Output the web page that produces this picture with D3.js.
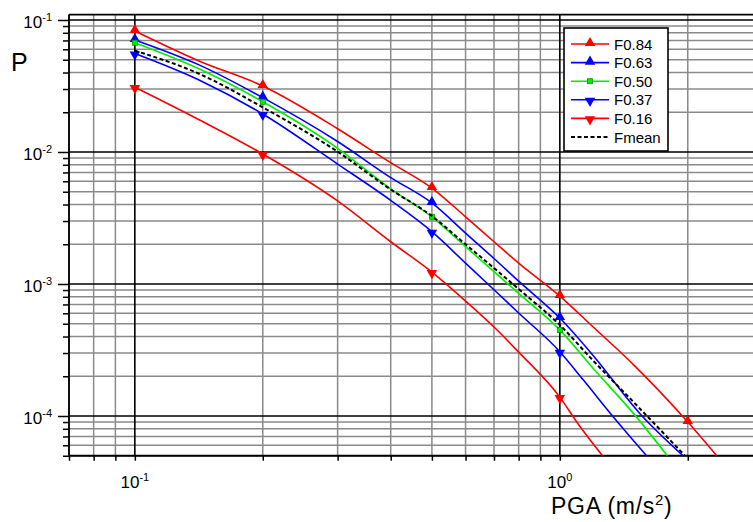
<!DOCTYPE html>
<html><head><meta charset="utf-8">
<script src="https://cdn.jsdelivr.net/npm/d3@7"></script>
<style>
html,body{margin:0;padding:0;background:#fff;}
text{font-family:Arial,"Liberation Sans",sans-serif;}
</style></head>
<body>
<svg id="c" width="753" height="522"></svg>
<script>
// ---- data ----
const seriesNames = ["F0.84","F0.63","F0.50","F0.37","F0.16","Fmean"];
const pga84 = [0.1,0.142,0.2,0.3,0.4,0.5,0.6,0.7,0.8,1.0,1.2,1.5,2.0,2.34];
const p84   = [0.0825,0.0487,0.0316,0.0150,0.0083,0.00533,0.00323,0.00209,0.00144,0.00081,0.00047,0.00024,0.00009,0.00005];
const pga63 = [0.1,0.142,0.2,0.3,0.4,0.5,0.6,0.7,0.8,1.0,1.2,1.54,1.95];
const p63   = [0.0706,0.0455,0.0258,0.0120,0.0064,0.00411,0.00243,0.00156,0.00105,0.000552,0.000285,0.000105,0.00005];
const pga50 = [0.1,0.142,0.2,0.3,0.4,0.5,0.6,0.7,0.8,1.0,1.2,1.5,1.79];
const p50   = [0.0673,0.0425,0.0240,0.01067,0.00525,0.00323,0.00192,0.00124,0.000848,0.000449,0.000228,0.000102,0.00005];
const pga37 = [0.1,0.142,0.2,0.3,0.4,0.5,0.6,0.7,0.8,1.0,1.135,1.335,1.6];
const p37   = [0.0558,0.0350,0.0194,0.0081,0.0043,0.00249,0.00144,0.000904,0.000603,0.000307,0.000188,0.0000988,0.00005];
const pga16 = [0.1,0.142,0.2,0.3,0.4,0.5,0.6,0.7,0.8,1.0,1.1,1.26];
const p16   = [0.031,0.0175,0.00966,0.00426,0.00209,0.00123,0.000743,0.000472,0.000305,0.000139,0.0000885,0.00005];
const pgaMean = [0.1,0.142,0.2,0.3,0.4,0.5,0.6,0.7,0.8,1.0,1.2,1.5,1.97];
const pMean   = [0.0586,0.0390,0.0218,0.01005,0.0052,0.00327,0.0020,0.00132,0.000916,0.000489,0.000261,0.000125,0.00005];
const markerPGA = [0.1,0.2,0.5,1.0,2.0];
const xTickLabels = [{v:0.1,b:"10",e:"-1"},{v:1,b:"10",e:"0"}];
const yTickLabels = [{v:0.1,b:"10",e:"-1"},{v:0.01,b:"10",e:"-2"},{v:0.001,b:"10",e:"-3"},{v:0.0001,b:"10",e:"-4"}];

// ---- styles ----
const colors = ["#ff0000","#0000ff","#00ee00","#0000ff","#ff0000","#000000"];
const markers = ["up","up","sq","down","down","none"];
const xsAll = [pga84,pga63,pga50,pga37,pga16,pgaMean];
const ysAll = [p84,p63,p50,p37,p16,pMean];

const svg = d3.select("#c");
const L = 69, decX = 425, decY = 132;
const x = d3.scaleLog().domain([0.07,3]).range([L, L + decX*Math.log10(3/0.07)]);
const yTop = 20 - decY*Math.log10(0.11/0.1);
const y = d3.scaleLog().domain([5e-5,0.11]).range([20 + decY*Math.log10(0.1/5e-5), yTop]);
const B = y(5e-5);
const R = 760;

const xMinor = [0.07,0.08,0.09,0.2,0.3,0.4,0.5,0.6,0.7,0.8,0.9,2,3];
const xMajor = [0.1,1];
const yMinor = [];
[1e-5,1e-4,1e-3,1e-2].forEach(d=>{for(let k=2;k<=9;k++){const v=k*d; if(v>=5e-5-1e-12 && v<0.1) yMinor.push(v);}});
const yMajor = [1e-4,1e-3,1e-2,0.1];

const grid = svg.append("g");
grid.selectAll(".vx").data(xMinor).join("line")
  .attr("x1",d=>x(d)).attr("x2",d=>x(d)).attr("y1",yTop).attr("y2",B)
  .attr("stroke","#8a8a8a").attr("stroke-width",1.5);
grid.selectAll(".hy").data(yMinor).join("line")
  .attr("x1",L).attr("x2",R).attr("y1",d=>y(d)).attr("y2",d=>y(d))
  .attr("stroke","#8a8a8a").attr("stroke-width",1.5);
grid.selectAll(".vX").data(xMajor).join("line")
  .attr("x1",d=>x(d)).attr("x2",d=>x(d)).attr("y1",yTop).attr("y2",B)
  .attr("stroke","#000").attr("stroke-width",1.6);
grid.selectAll(".hY").data(yMajor).join("line")
  .attr("x1",L).attr("x2",R).attr("y1",d=>y(d)).attr("y2",d=>y(d))
  .attr("stroke","#000").attr("stroke-width",1.6);

const axL1 = svg.append("g").attr("transform",`translate(${L},0)`)
  .call(d3.axisLeft(y).tickValues(yMinor).tickSize(6).tickFormat(""));
const axL2 = svg.append("g").attr("transform",`translate(${L},0)`)
  .call(d3.axisLeft(y).tickValues(yMajor).tickSize(11).tickFormat(""));
const axB = svg.append("g").attr("transform",`translate(0,${B})`)
  .call(d3.axisBottom(x).tickValues(xMinor.concat(xMajor)).tickSize(5).tickFormat(""));
[axL1,axL2,axB].forEach(a=>{a.selectAll("line").attr("stroke","#000").attr("stroke-width",1.5); a.select(".domain").remove();});

svg.append("line").attr("x1",L).attr("x2",L).attr("y1",yTop).attr("y2",B).attr("stroke","#000").attr("stroke-width",1.8);
svg.append("line").attr("x1",L).attr("x2",R).attr("y1",B).attr("y2",B).attr("stroke","#000").attr("stroke-width",1.8);
svg.append("line").attr("x1",L).attr("x2",R).attr("y1",yTop).attr("y2",yTop).attr("stroke","#000").attr("stroke-width",1.8);

svg.append("clipPath").attr("id","clip").append("rect").attr("x",L).attr("y",yTop).attr("width",R-L).attr("height",B-yTop);

const line = d3.line().x(d=>x(d[0])).y(d=>y(d[1])).curve(d3.curveMonotoneX);
const plot = svg.append("g").attr("clip-path","url(#clip)");
const tri = d3.symbol().type(d3.symbolTriangle).size(48);
function drawMarker(g, kind, color, cx, cy){
  if(kind==="up"){
    g.append("path").attr("d",tri()).attr("transform",`translate(${cx},${cy-1})`).attr("fill",color);
  } else if(kind==="down"){
    g.append("path").attr("d",tri()).attr("transform",`translate(${cx},${cy+1}) rotate(180)`).attr("fill",color);
  } else if(kind==="sq"){
    g.append("rect").attr("x",cx-2.5).attr("y",cy-2.5).attr("width",5).attr("height",5)
      .attr("fill","#00ee00").attr("stroke","#009900").attr("stroke-width",0.8);
  }
}
seriesNames.forEach((name,i)=>{
  const pts = xsAll[i].map((v,j)=>[v,ysAll[i][j]]);
  const p = plot.append("path").datum(pts).attr("d",line).attr("fill","none")
    .attr("stroke",colors[i]).attr("stroke-width",name==="Fmean"?2:1.6);
  if(name==="Fmean") p.attr("stroke-dasharray","4,2.5");
  pts.forEach(d=>{ if(markerPGA.some(m=>Math.abs(m-d[0])<1e-9)) drawMarker(plot, markers[i], colors[i], x(d[0]), y(d[1])); });
});

const lab = svg.append("g").attr("fill","#000");
yTickLabels.forEach(t=>{
  const tx = lab.append("text").attr("x",52).attr("y",y(t.v)+8).attr("text-anchor","end").attr("font-size",17);
  tx.append("tspan").text(t.b);
  tx.append("tspan").attr("dy",-7).attr("font-size",11).text(t.e);
});
xTickLabels.forEach(t=>{
  const tx = lab.append("text").attr("x",x(t.v)).attr("y",B+32).attr("text-anchor","middle").attr("font-size",17);
  tx.append("tspan").text(t.b);
  tx.append("tspan").attr("dy",-7).attr("font-size",11).text(t.e);
});
svg.append("text").attr("x",11).attr("y",71).attr("font-size",25).text("P");
const xt = svg.append("text").attr("x",551).attr("y",514).attr("font-size",23).attr("letter-spacing",0.7);
xt.append("tspan").text("PGA (m/s");
xt.append("tspan").attr("dy",-9).attr("font-size",15).text("2");
xt.append("tspan").attr("dy",9).text(")");

const lg = svg.append("g");
lg.append("rect").attr("x",564).attr("y",28).attr("width",104).attr("height",123)
  .attr("fill","#fff").attr("stroke","#000").attr("stroke-width",1.6);
seriesNames.forEach((name,i)=>{
  const ly = 44 + i*18.6;
  const ln = lg.append("line").attr("x1",571).attr("x2",609).attr("y1",ly).attr("y2",ly)
    .attr("stroke",colors[i]).attr("stroke-width",name==="Fmean"?1.8:1.6);
  if(name==="Fmean") ln.attr("stroke-dasharray","4,2.5");
  drawMarker(lg, markers[i], colors[i], 590, ly);
  lg.append("text").attr("x",614).attr("y",ly+5.5).attr("font-size",15).text(name);
});
</script>
</body></html>
